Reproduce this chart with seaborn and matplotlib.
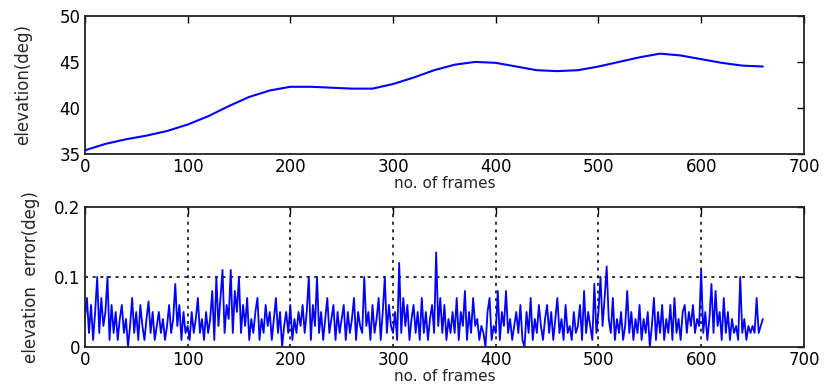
import numpy as np
import pandas as pd
import matplotlib
matplotlib.use("Agg")
import matplotlib.pyplot as plt
import seaborn as sns

# elevation curve (deg)
elev_frames = [0, 20, 40, 60, 80, 100, 120, 140, 160, 180, 200, 220, 240, 260, 280, 300,
               320, 340, 360, 380, 400, 420, 440, 460, 480, 500, 520, 540, 560, 580, 600,
               620, 640, 660]
elev_deg = [35.4, 36.1, 36.6, 37.0, 37.5, 38.2, 39.1, 40.2, 41.2, 41.9, 42.3, 42.3, 42.2,
            42.1, 42.1, 42.6, 43.3, 44.1, 44.7, 45.0, 44.9, 44.5, 44.1, 44.0, 44.1, 44.5,
            45.0, 45.5, 45.9, 45.7, 45.3, 44.9, 44.6, 44.5]

# elevation error (deg), one value every 2 frames, 0..660
err_step = 2
err_deg = [
    0.04, 0.07, 0.02, 0.06, 0.01, 0.05, 0.10, 0.02, 0.07, 0.03, 0.05, 0.10, 0.01, 0.06, 0.02,
    0.05, 0.01, 0.04, 0.06, 0.02, 0.04, 0.00, 0.03, 0.07, 0.02, 0.05, 0.01, 0.06, 0.03, 0.01,
    0.04, 0.065, 0.02, 0.05, 0.01, 0.03, 0.05, 0.02, 0.04, 0.01, 0.03, 0.06, 0.02, 0.04, 0.09,
    0.03, 0.06, 0.01, 0.05, 0.02, 0.03, 0.01, 0.05, 0.02, 0.04, 0.07, 0.02, 0.04, 0.01, 0.05,
    0.02, 0.04, 0.08, 0.01, 0.10, 0.03, 0.07, 0.11, 0.02, 0.06, 0.04, 0.11, 0.02, 0.08, 0.05,
    0.10, 0.02, 0.06, 0.03, 0.07, 0.01, 0.04, 0.02, 0.05, 0.07, 0.01, 0.04, 0.02, 0.06, 0.03,
    0.05, 0.01, 0.04, 0.07, 0.02, 0.05, 0.00, 0.03, 0.05, 0.02, 0.06, 0.01, 0.04, 0.02, 0.05,
    0.03, 0.06, 0.02, 0.05, 0.10, 0.01, 0.06, 0.03, 0.10, 0.02, 0.05, 0.01, 0.04, 0.07, 0.02,
    0.04, 0.06, 0.01, 0.05, 0.02, 0.04, 0.06, 0.01, 0.05, 0.02, 0.04, 0.07, 0.01, 0.05, 0.03,
    0.02, 0.10, 0.03, 0.05, 0.01, 0.06, 0.02, 0.04, 0.07, 0.01, 0.05, 0.10, 0.02, 0.06, 0.03,
    0.02, 0.05, 0.01, 0.12, 0.02, 0.07, 0.03, 0.06, 0.01, 0.04, 0.06, 0.02, 0.05, 0.01, 0.07,
    0.02, 0.05, 0.01, 0.04, 0.06, 0.02, 0.135, 0.03, 0.07, 0.02, 0.06, 0.01, 0.04, 0.02, 0.05,
    0.02, 0.07, 0.01, 0.05, 0.03, 0.08, 0.01, 0.05, 0.02, 0.07, 0.03, 0.04, 0.01, 0.03, 0.02,
    0.00, 0.05, 0.07, 0.01, 0.03, 0.02, 0.08, 0.01, 0.05, 0.03, 0.08, 0.02, 0.04, 0.01, 0.03,
    0.05, 0.02, 0.06, 0.01, 0.00, 0.05, 0.02, 0.07, 0.01, 0.04, 0.02, 0.06, 0.03, 0.01, 0.04,
    0.06, 0.02, 0.05, 0.01, 0.04, 0.07, 0.02, 0.04, 0.01, 0.06, 0.02, 0.03, 0.01, 0.05, 0.02,
    0.03, 0.06, 0.01, 0.08, 0.02, 0.05, 0.03, 0.01, 0.09, 0.02, 0.05, 0.10, 0.03, 0.07, 0.115,
    0.04, 0.02, 0.07, 0.01, 0.04, 0.02, 0.05, 0.01, 0.03, 0.08, 0.02, 0.05, 0.01, 0.04, 0.02,
    0.06, 0.01, 0.04, 0.02, 0.05, 0.00, 0.03, 0.07, 0.01, 0.05, 0.02, 0.06, 0.01, 0.04, 0.02,
    0.06, 0.01, 0.07, 0.02, 0.04, 0.01, 0.05, 0.06, 0.02, 0.05, 0.03, 0.06, 0.02, 0.04, 0.03,
    0.11, 0.02, 0.05, 0.01, 0.04, 0.09, 0.02, 0.08, 0.03, 0.05, 0.01, 0.07, 0.02, 0.05, 0.01,
    0.04, 0.02, 0.03, 0.01, 0.10, 0.02, 0.04, 0.01, 0.03, 0.02, 0.03, 0.02, 0.07, 0.02, 0.03,
    0.04,
]
err_frames = [i * err_step for i in range(len(err_deg))]

x_ticks = [0, 100, 200, 300, 400, 500, 600, 700]

sns.set_style("white")
plt.rcParams['font.family'] = ['DejaVu Sans']

top = pd.DataFrame({"frame": elev_frames, "elev": elev_deg})
bot = pd.DataFrame({"frame": err_frames, "err": err_deg})

fig = plt.figure(figsize=(8.24, 3.87), dpi=100)
ax1 = fig.add_axes([0.103, 0.602, 0.8726, 0.357])
ax2 = fig.add_axes([0.103, 0.1034, 0.8726, 0.362])

sns.lineplot(data=top, x="frame", y="elev", ax=ax1, color="#0000ff", linewidth=1.5)
sns.lineplot(data=bot, x="frame", y="err", ax=ax2, color="#0000ff", linewidth=1.3)

ax1.set_xlim(0, 700)
ax1.set_ylim(35, 50)
ax1.set_yticks([35, 40, 45, 50])
ax2.set_xlim(0, 700)
ax2.set_ylim(0, 0.2)
ax2.set_yticks([0, 0.1, 0.2])
ax2.set_yticklabels(["0", "0.1", "0.2"])

# dotted grid on lower panel only
for gx in x_ticks[1:-1]:
    ax2.axvline(gx, color="black", linestyle=(0, (2, 3)), linewidth=1.1, zorder=0)
ax2.axhline(0.1, color="black", linestyle=(0, (2, 3)), linewidth=1.1, zorder=0)

for ax in (ax1, ax2):
    ax.set_xticks(x_ticks)
    ax.tick_params(direction="in", length=5, width=1, top=True, right=True,
                   labelsize=12, pad=3, colors="black")
    for s in ax.spines.values():
        s.set_color("#222222")
        s.set_linewidth(1.3)
    ax.set_xlabel("no. of frames", fontsize=11, labelpad=0)

ax1.set_ylabel("elevation(deg)", fontsize=12, labelpad=20)
ax2.set_ylabel("elevation  error(deg)", fontsize=12, labelpad=10)

fig.savefig("out.png", dpi=100)
